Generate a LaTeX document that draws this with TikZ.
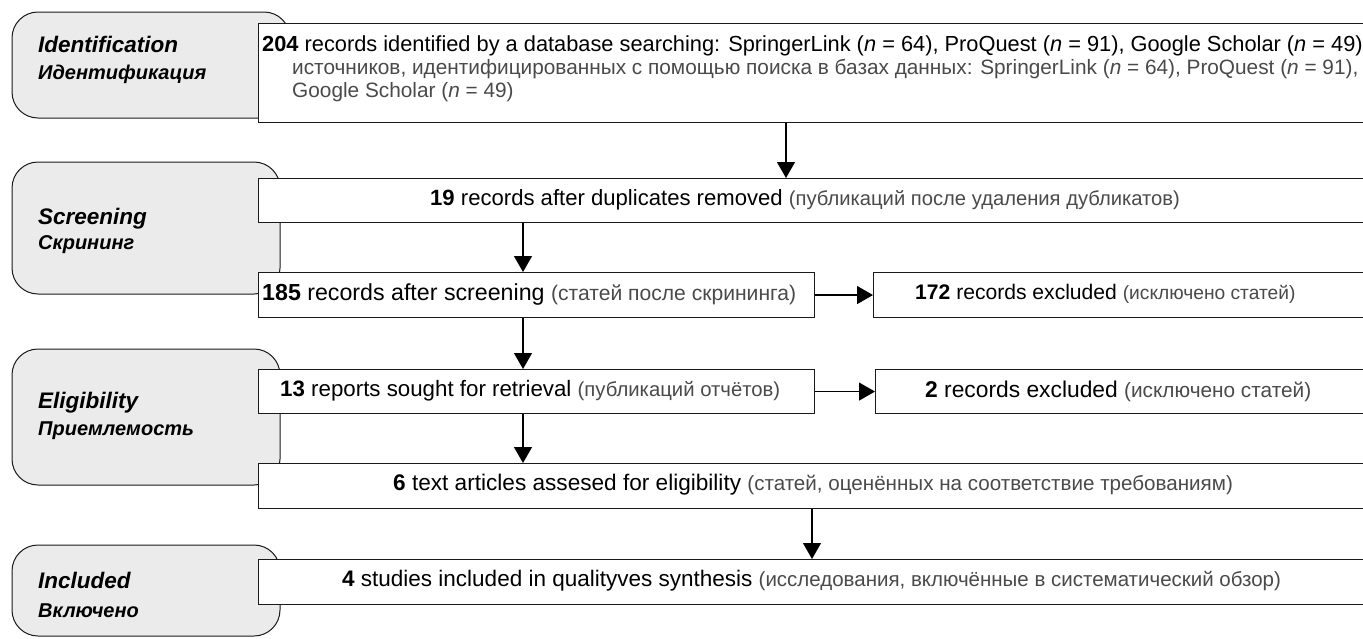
\documentclass[tikz,border=0pt]{standalone}
\usepackage{fontspec}
\setmainfont{Liberation Sans}
\usetikzlibrary{arrows.meta}
\definecolor{stagefill}{HTML}{EBEBEB}
\definecolor{rus}{HTML}{4A4A4A}
\definecolor{edge}{HTML}{1A1A1A}
\tikzset{
  stagebox/.style={draw=edge, line width=1pt, fill=stagefill, rounded corners=26pt},
  flowbox/.style={draw=edge, line width=1.1pt, fill=white, rectangle, inner sep=0pt},
  txt/.style={inner sep=0pt, anchor=west},
  stagetxt/.style={inner sep=0pt, anchor=base west, font=\bfseries\itshape},
  flow/.style={draw=black, line width=1.3pt, -{Triangle[width=18pt,length=16pt]}},
}
\newcommand{\en}[2]{{\fontsize{#1}{#1}\selectfont #2}}
\newcommand{\ru}[2]{{\color{rus}\fontsize{#1}{#1}\selectfont #2}}
\begin{document}
\begin{tikzpicture}[x=1pt,y=-1pt]
\useasboundingbox (0,0) rectangle (1363,638);
\clip (0,0) rectangle (1363,638);
% stage boxes
\draw[stagebox] (12,12) rectangle (290,118);
\draw[stagebox] (12,162) rectangle (280,294);
\draw[stagebox] (12,349) rectangle (280,485);
\draw[stagebox] (12,545) rectangle (280,636);
\node[stagetxt] (s1a) at (38,52) {\fontsize{22.5}{24}\selectfont Identification};
\node[stagetxt] (s1b) at (38,79) {\fontsize{20}{22}\selectfont Идентификация};
\node[stagetxt] (s2a) at (38,224) {\fontsize{22.5}{24}\selectfont Screening};
\node[stagetxt] (s2b) at (38,249) {\fontsize{20}{22}\selectfont Скрининг};
\node[stagetxt] (s3a) at (38,408) {\fontsize{22.5}{24}\selectfont Eligibility};
\node[stagetxt] (s3b) at (38,435) {\fontsize{20}{22}\selectfont Приемлемость};
\node[stagetxt] (s4a) at (38,588) {\fontsize{22.5}{24}\selectfont Included};
\node[stagetxt] (s4b) at (38,617) {\fontsize{20}{22}\selectfont Включено};
% flow boxes
\node[flowbox, anchor=north west, minimum width=1110pt, minimum height=99pt] (b1) at (258,23) {};
\node[flowbox, anchor=north west, minimum width=1110pt, minimum height=44pt] (b2) at (258,178) {};
\node[flowbox, anchor=north west, minimum width=556pt, minimum height=45pt] (b3) at (258,272) {};
\node[flowbox, anchor=north west, minimum width=500pt, minimum height=45pt] (b3x) at (873,272) {};
\node[flowbox, anchor=north west, minimum width=556pt, minimum height=44pt] (b4) at (258,369) {};
\node[flowbox, anchor=north west, minimum width=500pt, minimum height=44pt] (b4x) at (875,369) {};
\node[flowbox, anchor=north west, minimum width=1110pt, minimum height=45pt] (b5) at (258,463) {};
\node[flowbox, anchor=north west, minimum width=1110pt, minimum height=45pt] (b6) at (258,559) {};
% texts
\node[txt] (t1a) at (262,46) {\en{21.8}{\textbf{204} records identified by a database searching: SpringerLink (\textit{n} = 64), ProQuest (\textit{n} = 91), Google Scholar (\textit{n} = 49)}};
\node[txt] (t1b) at (292,69) {\ru{20.8}{источников, идентифицированных с помощью поиска в базах данных: SpringerLink (\textit{n} = 64), ProQuest (\textit{n} = 91),}};
\node[txt] (t1c) at (292,92) {\ru{20.8}{Google Scholar (\textit{n} = 49)}};
\node[txt] (t2) at (430,200) {\en{22.1}{\textbf{19} records after duplicates removed\ }\ru{20.2}{(публикаций после удаления дубликатов)}};
\node[txt] (t3) at (262,294) {\en{23.2}{\textbf{185} records after screening\ }\ru{21.1}{(статей после скрининга)}};
\node[txt] (t3x) at (915,294) {\en{21.1}{\textbf{172} records excluded\ }\ru{19.2}{(исключено статей)}};
\node[txt] (t4) at (280,391) {\en{22.3}{\textbf{13} reports sought for retrieval\ }\ru{20.3}{(публикаций отчётов)}};
\node[txt] (t4x) at (925,391) {\en{22.8}{\textbf{2} records excluded\ }\ru{20.8}{(исключено статей)}};
\node[txt] (t5) at (393,485) {\en{22.6}{\textbf{6} text articles assesed for eligibility\ }\ru{20.6}{(статей, оценённых на соответствие требованиям)}};
\node[txt] (t6) at (342,581) {\en{22.5}{\textbf{4} studies included in qualityves synthesis\ }\ru{20.5}{(исследования, включённые в систематический обзор)}};
% arrows
\coordinate (a1) at (786,0);
\coordinate (a2) at (523,0);
\coordinate (a5) at (812,0);
\draw[flow] (b1.south -| a1) -- (b2.north -| a1);
\draw[flow] (b2.south -| a2) -- (b3.north -| a2);
\draw[flow] (b3.south -| a2) -- (b4.north -| a2);
\draw[flow] (b4.south -| a2) -- (b5.north -| a2);
\draw[flow] (b5.south -| a5) -- (b6.north -| a5);
\draw[flow] (b3.east) -- (b3x.west);
\draw[flow] (b4.east) -- (b4x.west);
\end{tikzpicture}
\end{document}
